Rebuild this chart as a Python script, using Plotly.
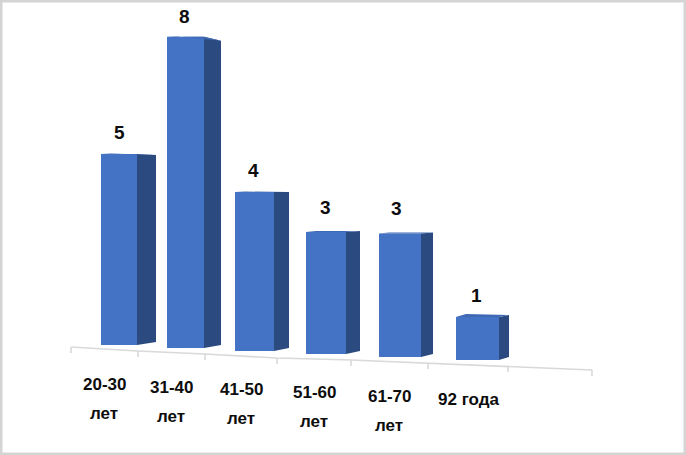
import plotly.graph_objects as go

# Chart data
categories = ["20-30<br> <br>лет", "31-40<br> <br>лет", "41-50<br> <br>лет", "51-60<br> <br>лет", "61-70<br> <br>лет", "92 года"]
values = [5, 8, 4, 3, 3, 1]

# Perspective of the tilted 3D scene (pixels in the 686x455 window)
front_left = [101, 167, 235, 306, 379, 456]
front_right = [137, 204, 274, 346, 421, 499]
side_right = [156, 221, 289, 360, 433, 509]
bar_floor = [345, 348, 351, 354, 357, 360]
px_per_unit = [38.2, 38.9, 39.75, 40.7, 41.2, 43.0]
side_drop = [1, 4, 0, -1, -1, -2]
top_rise = [0.5, 0.5, 0.5, 1, 1, 3]
label_x = [119, 184, 253, 325, 396, 476]
label_lift = [22, 20, 22, 24, 25, 22]
tick_label_x = [104, 171, 241, 314, 389, 468]
tick_label_y = [384, 387, 389, 392, 396, 399]
axis_ticks_x = [71, 138, 205, 277, 351, 428, 508, 592]
axis_ticks_y = [347, 351, 354, 358, 360, 363, 366, 370]

FRONT = "#4472C4"
SIDE = "#2A4A80"
TOP = "#3F69B4"
TEXT = "#0D0D0D"
AXIS = "#D9D9D9"
FRAME = "#D4D4D4"

fig = go.Figure()

tops = [f - v * p for f, v, p in zip(bar_floor, values, px_per_unit)]

# side faces and top slivers
for i in range(len(values)):
    fig.add_trace(go.Scatter(
        x=[front_right[i], side_right[i], side_right[i], front_right[i], front_right[i]],
        y=[tops[i], tops[i] + side_drop[i], bar_floor[i] - 3, bar_floor[i], tops[i]],
        mode="lines", line=dict(width=0), fill="toself", fillcolor=SIDE, hoverinfo="skip",
    ))
    fig.add_trace(go.Scatter(
        x=[front_left[i], front_left[i] + 10, side_right[i], front_right[i], front_left[i]],
        y=[tops[i], tops[i] - top_rise[i], tops[i] + side_drop[i], tops[i], tops[i]],
        mode="lines", line=dict(width=0), fill="toself", fillcolor=TOP, hoverinfo="skip",
    ))

# front faces
fig.add_trace(go.Bar(
    x=[(a + b) / 2 for a, b in zip(front_left, front_right)],
    width=[b - a for a, b in zip(front_left, front_right)],
    y=[v * p for v, p in zip(values, px_per_unit)],
    base=tops,
    marker=dict(color=FRONT, line=dict(width=0)),
    hoverinfo="skip",
))

# tilted axis
fig.add_trace(go.Scatter(x=axis_ticks_x, y=axis_ticks_y, mode="lines",
                         line=dict(color=AXIS, width=1.6), hoverinfo="skip"))
for tx, ty in zip(axis_ticks_x, axis_ticks_y):
    fig.add_trace(go.Scatter(x=[tx, tx], y=[ty, ty + 6], mode="lines",
                             line=dict(color=AXIS, width=1.6), hoverinfo="skip"))

# data labels
for x, t, v, lift in zip(label_x, tops, values, label_lift):
    fig.add_annotation(x=x, y=t - lift, text=f"<b>{v}</b>", showarrow=False,
                       font=dict(family="Liberation Sans", size=19, color=TEXT),
                       xanchor="center", yanchor="middle")

# category labels
for x, y, c in zip(tick_label_x, tick_label_y, categories):
    parts = c.split("<br> <br>")
    for j, part in enumerate(parts):
        fig.add_annotation(x=x, y=y + j * 29.5, text=f"<b>{part}</b>", showarrow=False,
                           font=dict(family="Liberation Sans", size=17, color=TEXT),
                           xanchor="center", yanchor="middle")

fig.update_layout(
    width=686, height=455, autosize=False,
    margin=dict(l=0, r=0, t=0, b=0),
    paper_bgcolor="white", plot_bgcolor="white",
    showlegend=False,
    xaxis=dict(range=[0, 686], visible=False, fixedrange=True),
    yaxis=dict(range=[455, 0], visible=False, fixedrange=True),
    shapes=[dict(type="rect", xref="paper", yref="paper", x0=0, y0=0, x1=1, y1=1,
                 line=dict(color=FRAME, width=5))],
)

fig.write_html("out.html", config={"displayModeBar": False},
               post_script="document.body.style.margin='0';document.documentElement.style.overflow='hidden';")
